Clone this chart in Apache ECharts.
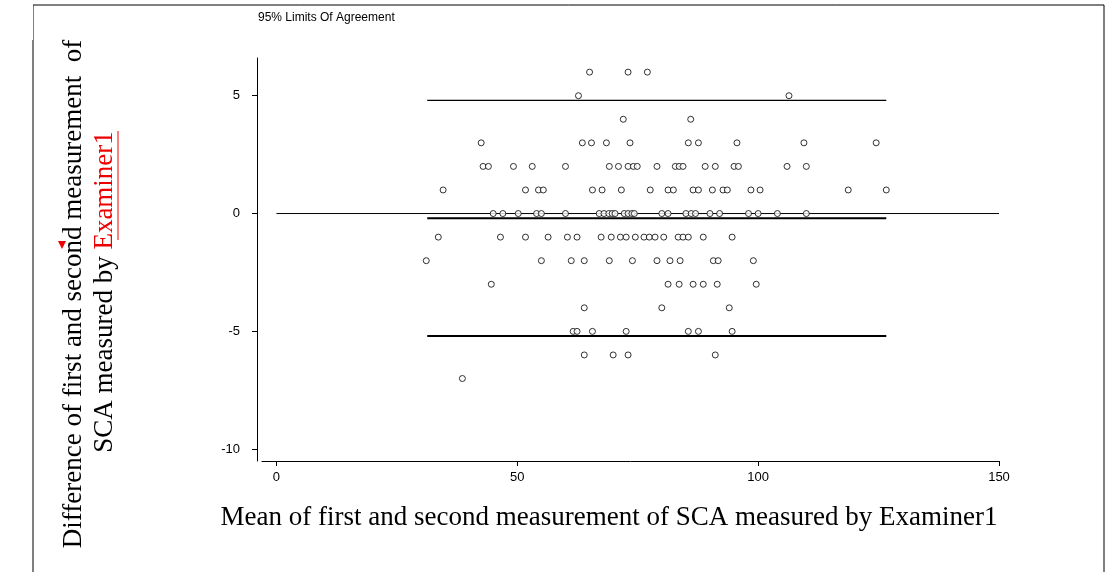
<!DOCTYPE html>
<html>
<head>
<meta charset="utf-8">
<script src="https://cdn.jsdelivr.net/npm/echarts@6/dist/echarts.min.js"></script>
<style>html,body{margin:0;padding:0;background:#fff}#main{width:1107px;height:572px}</style>
</head>
<body>
<div id="main"></div>
<script>
// differences (y) and the means (x) that go with them, one row per y value
var rowY = [6, 5, 4, 3, 2, 1, 0, -1, -2, -3, -4, -5, -6, -7];
var rowX = [
  [65, 73, 77],
  [62.7, 106.4],
  [72, 86],
  [42.5, 63.5, 65.4, 68.5, 73.4, 85.5, 87.6, 95.6, 109.5, 124.5],
  [42.9, 44, 49.2, 53.1, 60, 69.1, 71, 73, 74.1, 74.9, 79, 82.8, 83.6, 84.4, 89, 91.1, 95, 95.9, 106, 110],
  [34.6, 51.7, 54.4, 55.4, 65.6, 67.6, 71.6, 77.6, 81.3, 82.4, 86.5, 87.6, 90.5, 92.7, 93.6, 98.5, 100.4, 118.7, 126.6],
  [45, 47, 50.2, 54, 55, 60, 67, 68, 69, 69.7, 70.3, 72.2, 73, 73.8, 74.3, 80, 81.3, 85, 86.1, 87, 90, 92, 98, 100, 104, 110],
  [33.6, 46.5, 51.7, 56.4, 60.4, 62.4, 67.4, 69.5, 71.4, 72.6, 74.5, 76.3, 77.4, 78.6, 80.4, 83.4, 84.4, 85.5, 88.6, 94.6],
  [31.1, 55, 61.2, 63.9, 69.1, 73.9, 79, 81.7, 83.8, 90.7, 91.7, 99],
  [44.6, 81.3, 83.6, 86.5, 88.6, 91.5, 99.6],
  [63.9, 80, 94],
  [61.6, 62.4, 65.6, 72.6, 85.5, 87.6, 94.6],
  [63.9, 69.9, 73, 91.1],
  [38.6]
];
var meanDiff = -0.2, upperLoA = 4.8, lowerLoA = -5.2;
var loaRange = [31.3, 126.6];
var xTicks = [0, 50, 100, 150];
var yTicks = [-10, -5, 0, 5];

var points = [];
rowY.forEach(function (y, i) {
  rowX[i].forEach(function (x) { points.push([x, y]); });
});

function hLine(y, x0, x1, w) {
  return {
    type: 'line', data: [[x0, y], [x1, y]], symbol: 'none', silent: true,
    lineStyle: { color: '#000', width: w }, z: 1
  };
}

var serif = '27px "Liberation Serif"';
var chart = echarts.init(document.getElementById('main'));
chart.setOption({
  animation: false,
  grid: { left: 262, right: 108, top: 58, bottom: 111 },
  xAxis: {
    type: 'value', min: -3, max: 150,
    axisLine: { onZero: false, lineStyle: { color: '#000' } },
    axisTick: { show: true, length: 5, lineStyle: { color: '#000' }, customValues: xTicks },
    axisLabel: { color: '#000', fontFamily: 'Liberation Sans', fontSize: 13, margin: 10, customValues: xTicks },
    splitLine: { show: false }
  },
  yAxis: {
    type: 'value', min: -10.5, max: 6.6, offset: 5,
    axisLine: { show: true, onZero: false, lineStyle: { color: '#000' } },
    axisTick: { show: true, length: 5, lineStyle: { color: '#000' }, customValues: yTicks },
    axisLabel: { color: '#000', fontFamily: 'Liberation Sans', fontSize: 13, margin: 17, customValues: yTicks },
    splitLine: { show: false }
  },
  series: [
    hLine(0, 0, 150, 1),
    hLine(meanDiff, loaRange[0], loaRange[1], 2),
    hLine(upperLoA, loaRange[0], loaRange[1], 1.3),
    hLine(lowerLoA, loaRange[0], loaRange[1], 2),
    {
      type: 'scatter', data: points, symbol: 'circle', symbolSize: 6, z: 3,
      itemStyle: { color: '#fff', borderColor: '#000', borderWidth: 1 }
    }
  ],
  graphic: [
    { type: 'rect', shape: { x: 33, y: 5, width: 1071, height: 600 }, style: { fill: 'none', stroke: '#000', lineWidth: 1 } },
    { type: 'rect', shape: { x: 0, y: 0, width: 33, height: 40 }, style: { fill: '#fff' } },
    { type: 'text', left: 258, top: 12, style: { text: '95% Limits Of Agreement', font: '12px "Liberation Sans"', fill: '#000' } },
    { type: 'text', x: 609, y: 518,
      style: { text: 'Mean of first and second measurement of SCA measured by Examiner1', font: serif, fill: '#000', align: 'center', verticalAlign: 'middle' } },
    { type: 'text', x: 74, y: 294, rotation: Math.PI / 2,
      style: { text: 'Difference of first and second measurement  of', font: serif, fill: '#000', align: 'center', verticalAlign: 'middle' } },
    { type: 'text', x: 105, y: 292, rotation: Math.PI / 2,
      style: { text: 'SCA measured by {r|Examiner1}', font: serif, fill: '#000', align: 'center', verticalAlign: 'middle',
        rich: { r: { fill: '#e00', font: serif } } } },
    { type: 'line', shape: { x1: 118, y1: 131, x2: 118, y2: 240 }, style: { stroke: '#e00', lineWidth: 1 } },
    { type: 'polygon', shape: { points: [[58, 241], [66, 241], [62, 249]] }, style: { fill: '#e00' } }
  ]
});
</script>
</body>
</html>
